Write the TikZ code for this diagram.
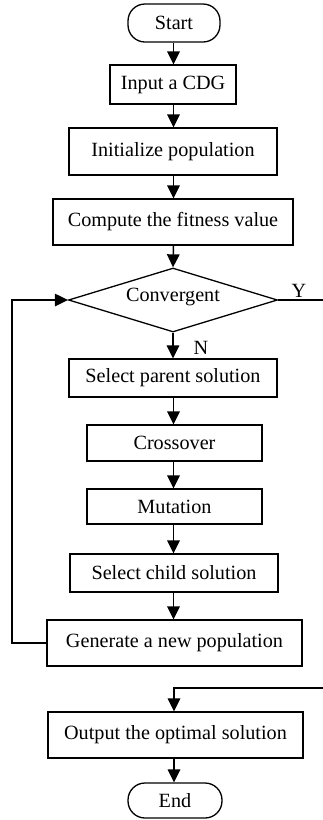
\documentclass[tikz,border=0pt]{standalone}
\usepackage{fontspec}
\setmainfont{Liberation Serif}
\usetikzlibrary{shapes.geometric,arrows.meta}
\begin{document}
\begin{tikzpicture}[x=1pt,y=-1pt,
  every node/.style={font=\fontsize{20.2}{23}\selectfont, inner sep=0pt},
  box/.style={draw, line width=1.3pt, rectangle, align=center},
  term/.style={draw, line width=1.3pt, rectangle, rounded corners=17pt},
  decision/.style={draw, line width=1.3pt, diamond, inner sep=0pt},
  arr/.style={line width=1.5pt, -{Triangle[length=13pt,width=12.5pt]}},
  link/.style={line width=1.5pt}]
\useasboundingbox (0,0) rectangle (323,820);

\node[term, minimum width=92pt, minimum height=38pt] (start) at (174,23) {Start};
\node[box, minimum width=126pt, minimum height=39pt] (input) at (173,84.5) {Input a CDG};
\node[box, minimum width=208pt, minimum height=47pt] (init) at (173,151.5) {Initialize population};
\node[box, minimum width=240pt, minimum height=46pt] (fit) at (173,222) {Compute the fitness value};
\node[decision, minimum width=209pt, minimum height=64pt] (conv) at (173,300) {};
\node at (173,297) {Convergent};
\node[box, minimum width=208pt, minimum height=38pt] (parent) at (173,378) {Select parent solution};
\node[box, minimum width=175pt, minimum height=36pt] (cross) at (174.5,443) {Crossover};
\node[box, minimum width=175pt, minimum height=35pt] (mut) at (174.5,506.5) {Mutation};
\node[box, minimum width=208pt, minimum height=38pt] (child) at (174,573) {Select child solution};
\node[box, minimum width=255pt, minimum height=46pt] (gen) at (174.5,643) {Generate a new population};
\node[box, minimum width=255pt, minimum height=46pt] (out) at (175.5,735) {Output the optimal solution};
\node[term, minimum width=94pt, minimum height=35pt] (end) at (175,800.5) {End};

\node (ylab) at (299,291) {Y};
\node (nlab) at (201,348) {N};

% main flow
\draw[arr] (start.south -| 173.5,0) -- (input.north -| 173.5,0);
\draw[arr] (input.south -| 173.5,0) -- (init.north -| 173.5,0);
\draw[arr] (init.south -| 173.5,0) -- (fit.north -| 173.5,0);
\draw[arr] (fit.south -| 173.5,0) -- (conv.north);
\draw[arr] (conv.south) -- (parent.north -| conv.south);
\draw[arr] (parent.south -| 173.5,0) -- (cross.north -| 173.5,0);
\draw[arr] (cross.south -| 173.5,0) -- (mut.north -| 173.5,0);
\draw[arr] (mut.south -| 173.5,0) -- (child.north -| 173.5,0);
\draw[arr] (child.south -| 173.5,0) -- (gen.north -| 173.5,0);

% loop back to the convergence test
\coordinate (loopx) at (12,0);
\draw[arr] (gen.west) -- (gen.west -| loopx) |- (conv.west);

% exit branch
\coordinate (yend) at (323,300);
\draw[link] (conv.east) -- (yend);
\coordinate (oin) at (323,688);
\draw[arr] (oin) -| (out.north -| 174,0);
\draw[arr] (out.south -| 174,0) -- (end.north -| 174,0);
\end{tikzpicture}
\end{document}
